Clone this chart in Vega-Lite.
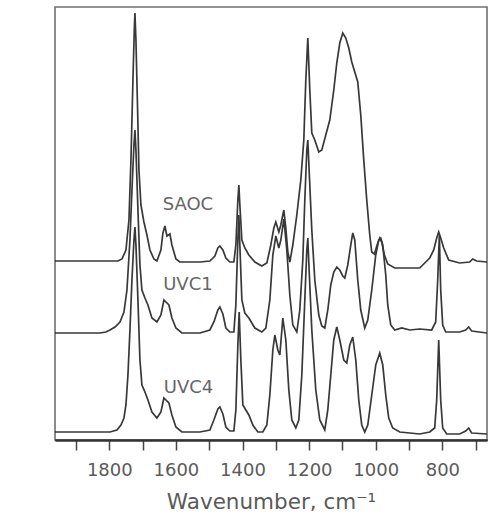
{
  "$schema": "https://vega.github.io/schema/vega-lite/v6.json",
  "autosize": {"type": "none"},
  "width": 432,
  "height": 433,
  "padding": {"left": 55, "top": 7, "right": 3, "bottom": 76},
  "background": "white",
  "config": {
    "font": "DejaVu Sans",
    "view": {"stroke": "#6f6f6f", "strokeWidth": 1.6}
  },
  "layer": [
    {
      "data": {
        "values": [
          {"spectrum": "SAOC", "wn": 1963, "abs": 1.79},
          {"spectrum": "SAOC", "wn": 1828, "abs": 1.79},
          {"spectrum": "SAOC", "wn": 1774, "abs": 1.79},
          {"spectrum": "SAOC", "wn": 1762, "abs": 1.81},
          {"spectrum": "SAOC", "wn": 1750, "abs": 1.90},
          {"spectrum": "SAOC", "wn": 1741, "abs": 2.20},
          {"spectrum": "SAOC", "wn": 1735, "abs": 2.80},
          {"spectrum": "SAOC", "wn": 1729, "abs": 3.60},
          {"spectrum": "SAOC", "wn": 1725, "abs": 4.10},
          {"spectrum": "SAOC", "wn": 1723, "abs": 4.27},
          {"spectrum": "SAOC", "wn": 1720, "abs": 4.00},
          {"spectrum": "SAOC", "wn": 1715, "abs": 3.30},
          {"spectrum": "SAOC", "wn": 1711, "abs": 2.70},
          {"spectrum": "SAOC", "wn": 1705, "abs": 2.35},
          {"spectrum": "SAOC", "wn": 1696, "abs": 2.18},
          {"spectrum": "SAOC", "wn": 1687, "abs": 2.05},
          {"spectrum": "SAOC", "wn": 1678, "abs": 1.90},
          {"spectrum": "SAOC", "wn": 1666, "abs": 1.81},
          {"spectrum": "SAOC", "wn": 1657, "abs": 1.79},
          {"spectrum": "SAOC", "wn": 1645, "abs": 1.90},
          {"spectrum": "SAOC", "wn": 1639, "abs": 2.07},
          {"spectrum": "SAOC", "wn": 1633, "abs": 2.14},
          {"spectrum": "SAOC", "wn": 1627, "abs": 2.04},
          {"spectrum": "SAOC", "wn": 1618, "abs": 2.06},
          {"spectrum": "SAOC", "wn": 1612, "abs": 1.95},
          {"spectrum": "SAOC", "wn": 1600, "abs": 1.81},
          {"spectrum": "SAOC", "wn": 1588, "abs": 1.78},
          {"spectrum": "SAOC", "wn": 1528, "abs": 1.78},
          {"spectrum": "SAOC", "wn": 1498, "abs": 1.79},
          {"spectrum": "SAOC", "wn": 1483, "abs": 1.84},
          {"spectrum": "SAOC", "wn": 1474, "abs": 1.92},
          {"spectrum": "SAOC", "wn": 1468, "abs": 1.94},
          {"spectrum": "SAOC", "wn": 1459, "abs": 1.90},
          {"spectrum": "SAOC", "wn": 1450, "abs": 1.82},
          {"spectrum": "SAOC", "wn": 1438, "abs": 1.78},
          {"spectrum": "SAOC", "wn": 1426, "abs": 1.78},
          {"spectrum": "SAOC", "wn": 1420, "abs": 1.95},
          {"spectrum": "SAOC", "wn": 1414, "abs": 2.40},
          {"spectrum": "SAOC", "wn": 1411, "abs": 2.55},
          {"spectrum": "SAOC", "wn": 1408, "abs": 2.35},
          {"spectrum": "SAOC", "wn": 1402, "abs": 2.00},
          {"spectrum": "SAOC", "wn": 1393, "abs": 1.92},
          {"spectrum": "SAOC", "wn": 1381, "abs": 1.85},
          {"spectrum": "SAOC", "wn": 1363, "abs": 1.78},
          {"spectrum": "SAOC", "wn": 1342, "abs": 1.74},
          {"spectrum": "SAOC", "wn": 1327, "abs": 1.77},
          {"spectrum": "SAOC", "wn": 1315, "abs": 1.95},
          {"spectrum": "SAOC", "wn": 1306, "abs": 2.12},
          {"spectrum": "SAOC", "wn": 1300, "abs": 2.18},
          {"spectrum": "SAOC", "wn": 1291, "abs": 2.08},
          {"spectrum": "SAOC", "wn": 1285, "abs": 2.15},
          {"spectrum": "SAOC", "wn": 1276, "abs": 2.30},
          {"spectrum": "SAOC", "wn": 1270, "abs": 2.12},
          {"spectrum": "SAOC", "wn": 1264, "abs": 1.88},
          {"spectrum": "SAOC", "wn": 1258, "abs": 1.78},
          {"spectrum": "SAOC", "wn": 1249, "abs": 1.95},
          {"spectrum": "SAOC", "wn": 1237, "abs": 2.25},
          {"spectrum": "SAOC", "wn": 1225, "abs": 2.60},
          {"spectrum": "SAOC", "wn": 1216, "abs": 3.00},
          {"spectrum": "SAOC", "wn": 1210, "abs": 3.60},
          {"spectrum": "SAOC", "wn": 1204, "abs": 4.02},
          {"spectrum": "SAOC", "wn": 1198, "abs": 3.50},
          {"spectrum": "SAOC", "wn": 1192, "abs": 3.07},
          {"spectrum": "SAOC", "wn": 1183, "abs": 3.00},
          {"spectrum": "SAOC", "wn": 1171, "abs": 2.88},
          {"spectrum": "SAOC", "wn": 1162, "abs": 2.90},
          {"spectrum": "SAOC", "wn": 1150, "abs": 3.05},
          {"spectrum": "SAOC", "wn": 1138, "abs": 3.20},
          {"spectrum": "SAOC", "wn": 1126, "abs": 3.50},
          {"spectrum": "SAOC", "wn": 1117, "abs": 3.77},
          {"spectrum": "SAOC", "wn": 1108, "abs": 3.97},
          {"spectrum": "SAOC", "wn": 1099, "abs": 4.07},
          {"spectrum": "SAOC", "wn": 1090, "abs": 4.02},
          {"spectrum": "SAOC", "wn": 1081, "abs": 3.92},
          {"spectrum": "SAOC", "wn": 1072, "abs": 3.78},
          {"spectrum": "SAOC", "wn": 1063, "abs": 3.68},
          {"spectrum": "SAOC", "wn": 1054, "abs": 3.58},
          {"spectrum": "SAOC", "wn": 1045, "abs": 3.25},
          {"spectrum": "SAOC", "wn": 1036, "abs": 2.80},
          {"spectrum": "SAOC", "wn": 1027, "abs": 2.40},
          {"spectrum": "SAOC", "wn": 1018, "abs": 2.05},
          {"spectrum": "SAOC", "wn": 1012, "abs": 1.88},
          {"spectrum": "SAOC", "wn": 1004, "abs": 1.86},
          {"spectrum": "SAOC", "wn": 996, "abs": 1.95},
          {"spectrum": "SAOC", "wn": 988, "abs": 2.02},
          {"spectrum": "SAOC", "wn": 982, "abs": 1.98},
          {"spectrum": "SAOC", "wn": 974, "abs": 1.85},
          {"spectrum": "SAOC", "wn": 964, "abs": 1.76},
          {"spectrum": "SAOC", "wn": 943, "abs": 1.72},
          {"spectrum": "SAOC", "wn": 898, "abs": 1.72},
          {"spectrum": "SAOC", "wn": 868, "abs": 1.72},
          {"spectrum": "SAOC", "wn": 838, "abs": 1.82},
          {"spectrum": "SAOC", "wn": 826, "abs": 1.90},
          {"spectrum": "SAOC", "wn": 817, "abs": 2.02},
          {"spectrum": "SAOC", "wn": 811, "abs": 2.08},
          {"spectrum": "SAOC", "wn": 805, "abs": 2.02},
          {"spectrum": "SAOC", "wn": 796, "abs": 1.92},
          {"spectrum": "SAOC", "wn": 781, "abs": 1.80},
          {"spectrum": "SAOC", "wn": 748, "abs": 1.77},
          {"spectrum": "SAOC", "wn": 718, "abs": 1.78},
          {"spectrum": "SAOC", "wn": 709, "abs": 1.81},
          {"spectrum": "SAOC", "wn": 697, "abs": 1.79},
          {"spectrum": "SAOC", "wn": 666, "abs": 1.78},

          {"spectrum": "UVC1", "wn": 1963, "abs": 1.07},
          {"spectrum": "UVC1", "wn": 1828, "abs": 1.07},
          {"spectrum": "UVC1", "wn": 1810, "abs": 1.08},
          {"spectrum": "UVC1", "wn": 1798, "abs": 1.10},
          {"spectrum": "UVC1", "wn": 1783, "abs": 1.13},
          {"spectrum": "UVC1", "wn": 1768, "abs": 1.18},
          {"spectrum": "UVC1", "wn": 1756, "abs": 1.28},
          {"spectrum": "UVC1", "wn": 1747, "abs": 1.50},
          {"spectrum": "UVC1", "wn": 1738, "abs": 2.00},
          {"spectrum": "UVC1", "wn": 1732, "abs": 2.50},
          {"spectrum": "UVC1", "wn": 1726, "abs": 2.95},
          {"spectrum": "UVC1", "wn": 1723, "abs": 3.10},
          {"spectrum": "UVC1", "wn": 1720, "abs": 2.90},
          {"spectrum": "UVC1", "wn": 1714, "abs": 2.30},
          {"spectrum": "UVC1", "wn": 1708, "abs": 1.75},
          {"spectrum": "UVC1", "wn": 1702, "abs": 1.50},
          {"spectrum": "UVC1", "wn": 1693, "abs": 1.42},
          {"spectrum": "UVC1", "wn": 1684, "abs": 1.35},
          {"spectrum": "UVC1", "wn": 1672, "abs": 1.22},
          {"spectrum": "UVC1", "wn": 1657, "abs": 1.18},
          {"spectrum": "UVC1", "wn": 1645, "abs": 1.25},
          {"spectrum": "UVC1", "wn": 1636, "abs": 1.40},
          {"spectrum": "UVC1", "wn": 1630, "abs": 1.38},
          {"spectrum": "UVC1", "wn": 1621, "abs": 1.35},
          {"spectrum": "UVC1", "wn": 1612, "abs": 1.22},
          {"spectrum": "UVC1", "wn": 1600, "abs": 1.12},
          {"spectrum": "UVC1", "wn": 1582, "abs": 1.07},
          {"spectrum": "UVC1", "wn": 1528, "abs": 1.07},
          {"spectrum": "UVC1", "wn": 1498, "abs": 1.10},
          {"spectrum": "UVC1", "wn": 1486, "abs": 1.18},
          {"spectrum": "UVC1", "wn": 1474, "abs": 1.30},
          {"spectrum": "UVC1", "wn": 1468, "abs": 1.33},
          {"spectrum": "UVC1", "wn": 1459, "abs": 1.26},
          {"spectrum": "UVC1", "wn": 1450, "abs": 1.12},
          {"spectrum": "UVC1", "wn": 1438, "abs": 1.08},
          {"spectrum": "UVC1", "wn": 1426, "abs": 1.08},
          {"spectrum": "UVC1", "wn": 1420, "abs": 1.35},
          {"spectrum": "UVC1", "wn": 1414, "abs": 2.00},
          {"spectrum": "UVC1", "wn": 1411, "abs": 2.25},
          {"spectrum": "UVC1", "wn": 1408, "abs": 1.95},
          {"spectrum": "UVC1", "wn": 1402, "abs": 1.40},
          {"spectrum": "UVC1", "wn": 1393, "abs": 1.27},
          {"spectrum": "UVC1", "wn": 1381, "abs": 1.22},
          {"spectrum": "UVC1", "wn": 1363, "abs": 1.12},
          {"spectrum": "UVC1", "wn": 1342, "abs": 1.08},
          {"spectrum": "UVC1", "wn": 1330, "abs": 1.12},
          {"spectrum": "UVC1", "wn": 1318, "abs": 1.40},
          {"spectrum": "UVC1", "wn": 1309, "abs": 1.85},
          {"spectrum": "UVC1", "wn": 1300, "abs": 2.04},
          {"spectrum": "UVC1", "wn": 1291, "abs": 1.92},
          {"spectrum": "UVC1", "wn": 1285, "abs": 2.00},
          {"spectrum": "UVC1", "wn": 1276, "abs": 2.21},
          {"spectrum": "UVC1", "wn": 1267, "abs": 1.90},
          {"spectrum": "UVC1", "wn": 1258, "abs": 1.45},
          {"spectrum": "UVC1", "wn": 1249, "abs": 1.15},
          {"spectrum": "UVC1", "wn": 1237, "abs": 1.08},
          {"spectrum": "UVC1", "wn": 1228, "abs": 1.30},
          {"spectrum": "UVC1", "wn": 1219, "abs": 1.80},
          {"spectrum": "UVC1", "wn": 1213, "abs": 2.40},
          {"spectrum": "UVC1", "wn": 1207, "abs": 2.90},
          {"spectrum": "UVC1", "wn": 1204, "abs": 3.00},
          {"spectrum": "UVC1", "wn": 1200, "abs": 2.70},
          {"spectrum": "UVC1", "wn": 1192, "abs": 2.10},
          {"spectrum": "UVC1", "wn": 1183, "abs": 1.60},
          {"spectrum": "UVC1", "wn": 1171, "abs": 1.25},
          {"spectrum": "UVC1", "wn": 1162, "abs": 1.14},
          {"spectrum": "UVC1", "wn": 1153, "abs": 1.12},
          {"spectrum": "UVC1", "wn": 1144, "abs": 1.30},
          {"spectrum": "UVC1", "wn": 1135, "abs": 1.55},
          {"spectrum": "UVC1", "wn": 1126, "abs": 1.68},
          {"spectrum": "UVC1", "wn": 1117, "abs": 1.73},
          {"spectrum": "UVC1", "wn": 1108, "abs": 1.70},
          {"spectrum": "UVC1", "wn": 1099, "abs": 1.64},
          {"spectrum": "UVC1", "wn": 1093, "abs": 1.62},
          {"spectrum": "UVC1", "wn": 1084, "abs": 1.75},
          {"spectrum": "UVC1", "wn": 1075, "abs": 1.95},
          {"spectrum": "UVC1", "wn": 1069, "abs": 2.07},
          {"spectrum": "UVC1", "wn": 1063, "abs": 2.00},
          {"spectrum": "UVC1", "wn": 1054, "abs": 1.60},
          {"spectrum": "UVC1", "wn": 1045, "abs": 1.30},
          {"spectrum": "UVC1", "wn": 1033, "abs": 1.12},
          {"spectrum": "UVC1", "wn": 1024, "abs": 1.20},
          {"spectrum": "UVC1", "wn": 1012, "abs": 1.50},
          {"spectrum": "UVC1", "wn": 1000, "abs": 1.85},
          {"spectrum": "UVC1", "wn": 991, "abs": 2.00},
          {"spectrum": "UVC1", "wn": 985, "abs": 2.02},
          {"spectrum": "UVC1", "wn": 979, "abs": 1.95},
          {"spectrum": "UVC1", "wn": 970, "abs": 1.65},
          {"spectrum": "UVC1", "wn": 964, "abs": 1.35},
          {"spectrum": "UVC1", "wn": 955, "abs": 1.15},
          {"spectrum": "UVC1", "wn": 943, "abs": 1.10},
          {"spectrum": "UVC1", "wn": 922, "abs": 1.12},
          {"spectrum": "UVC1", "wn": 898, "abs": 1.10},
          {"spectrum": "UVC1", "wn": 868, "abs": 1.11},
          {"spectrum": "UVC1", "wn": 832, "abs": 1.10},
          {"spectrum": "UVC1", "wn": 820, "abs": 1.18},
          {"spectrum": "UVC1", "wn": 814, "abs": 1.60},
          {"spectrum": "UVC1", "wn": 809, "abs": 2.05},
          {"spectrum": "UVC1", "wn": 805, "abs": 1.50},
          {"spectrum": "UVC1", "wn": 799, "abs": 1.15},
          {"spectrum": "UVC1", "wn": 790, "abs": 1.08},
          {"spectrum": "UVC1", "wn": 748, "abs": 1.08},
          {"spectrum": "UVC1", "wn": 730, "abs": 1.10},
          {"spectrum": "UVC1", "wn": 721, "abs": 1.13},
          {"spectrum": "UVC1", "wn": 712, "abs": 1.09},
          {"spectrum": "UVC1", "wn": 666, "abs": 1.07},

          {"spectrum": "UVC4", "wn": 1963, "abs": 0.08},
          {"spectrum": "UVC4", "wn": 1798, "abs": 0.08},
          {"spectrum": "UVC4", "wn": 1777, "abs": 0.10},
          {"spectrum": "UVC4", "wn": 1765, "abs": 0.15},
          {"spectrum": "UVC4", "wn": 1756, "abs": 0.22},
          {"spectrum": "UVC4", "wn": 1750, "abs": 0.35},
          {"spectrum": "UVC4", "wn": 1744, "abs": 0.65},
          {"spectrum": "UVC4", "wn": 1738, "abs": 1.10},
          {"spectrum": "UVC4", "wn": 1732, "abs": 1.60},
          {"spectrum": "UVC4", "wn": 1726, "abs": 2.00},
          {"spectrum": "UVC4", "wn": 1723, "abs": 2.13},
          {"spectrum": "UVC4", "wn": 1720, "abs": 1.95},
          {"spectrum": "UVC4", "wn": 1714, "abs": 1.40},
          {"spectrum": "UVC4", "wn": 1708, "abs": 0.80},
          {"spectrum": "UVC4", "wn": 1702, "abs": 0.55},
          {"spectrum": "UVC4", "wn": 1693, "abs": 0.48},
          {"spectrum": "UVC4", "wn": 1684, "abs": 0.40},
          {"spectrum": "UVC4", "wn": 1672, "abs": 0.28},
          {"spectrum": "UVC4", "wn": 1657, "abs": 0.22},
          {"spectrum": "UVC4", "wn": 1645, "abs": 0.28},
          {"spectrum": "UVC4", "wn": 1636, "abs": 0.42},
          {"spectrum": "UVC4", "wn": 1630, "abs": 0.40},
          {"spectrum": "UVC4", "wn": 1621, "abs": 0.37},
          {"spectrum": "UVC4", "wn": 1612, "abs": 0.25},
          {"spectrum": "UVC4", "wn": 1600, "abs": 0.13},
          {"spectrum": "UVC4", "wn": 1582, "abs": 0.08},
          {"spectrum": "UVC4", "wn": 1528, "abs": 0.08},
          {"spectrum": "UVC4", "wn": 1498, "abs": 0.10},
          {"spectrum": "UVC4", "wn": 1486, "abs": 0.20},
          {"spectrum": "UVC4", "wn": 1474, "abs": 0.31},
          {"spectrum": "UVC4", "wn": 1468, "abs": 0.33},
          {"spectrum": "UVC4", "wn": 1459, "abs": 0.26},
          {"spectrum": "UVC4", "wn": 1450, "abs": 0.13},
          {"spectrum": "UVC4", "wn": 1438, "abs": 0.09},
          {"spectrum": "UVC4", "wn": 1426, "abs": 0.09},
          {"spectrum": "UVC4", "wn": 1420, "abs": 0.30},
          {"spectrum": "UVC4", "wn": 1414, "abs": 0.95},
          {"spectrum": "UVC4", "wn": 1410, "abs": 1.28},
          {"spectrum": "UVC4", "wn": 1405, "abs": 0.80},
          {"spectrum": "UVC4", "wn": 1399, "abs": 0.35},
          {"spectrum": "UVC4", "wn": 1390, "abs": 0.30},
          {"spectrum": "UVC4", "wn": 1381, "abs": 0.25},
          {"spectrum": "UVC4", "wn": 1369, "abs": 0.15},
          {"spectrum": "UVC4", "wn": 1354, "abs": 0.08},
          {"spectrum": "UVC4", "wn": 1339, "abs": 0.08},
          {"spectrum": "UVC4", "wn": 1327, "abs": 0.15},
          {"spectrum": "UVC4", "wn": 1318, "abs": 0.45},
          {"spectrum": "UVC4", "wn": 1309, "abs": 0.90},
          {"spectrum": "UVC4", "wn": 1303, "abs": 1.05},
          {"spectrum": "UVC4", "wn": 1294, "abs": 0.90},
          {"spectrum": "UVC4", "wn": 1288, "abs": 0.85},
          {"spectrum": "UVC4", "wn": 1279, "abs": 1.22},
          {"spectrum": "UVC4", "wn": 1270, "abs": 1.00},
          {"spectrum": "UVC4", "wn": 1261, "abs": 0.50},
          {"spectrum": "UVC4", "wn": 1252, "abs": 0.20},
          {"spectrum": "UVC4", "wn": 1240, "abs": 0.12},
          {"spectrum": "UVC4", "wn": 1231, "abs": 0.20},
          {"spectrum": "UVC4", "wn": 1222, "abs": 0.65},
          {"spectrum": "UVC4", "wn": 1213, "abs": 1.40},
          {"spectrum": "UVC4", "wn": 1207, "abs": 1.90},
          {"spectrum": "UVC4", "wn": 1204, "abs": 2.02},
          {"spectrum": "UVC4", "wn": 1200, "abs": 1.70},
          {"spectrum": "UVC4", "wn": 1192, "abs": 1.10},
          {"spectrum": "UVC4", "wn": 1180, "abs": 0.50},
          {"spectrum": "UVC4", "wn": 1168, "abs": 0.20},
          {"spectrum": "UVC4", "wn": 1153, "abs": 0.10},
          {"spectrum": "UVC4", "wn": 1144, "abs": 0.30},
          {"spectrum": "UVC4", "wn": 1135, "abs": 0.65},
          {"spectrum": "UVC4", "wn": 1126, "abs": 1.00},
          {"spectrum": "UVC4", "wn": 1117, "abs": 1.13},
          {"spectrum": "UVC4", "wn": 1108, "abs": 1.00},
          {"spectrum": "UVC4", "wn": 1096, "abs": 0.80},
          {"spectrum": "UVC4", "wn": 1087, "abs": 0.77},
          {"spectrum": "UVC4", "wn": 1078, "abs": 0.95},
          {"spectrum": "UVC4", "wn": 1069, "abs": 1.03},
          {"spectrum": "UVC4", "wn": 1060, "abs": 0.80},
          {"spectrum": "UVC4", "wn": 1051, "abs": 0.40},
          {"spectrum": "UVC4", "wn": 1042, "abs": 0.15},
          {"spectrum": "UVC4", "wn": 1033, "abs": 0.08},
          {"spectrum": "UVC4", "wn": 1024, "abs": 0.15},
          {"spectrum": "UVC4", "wn": 1012, "abs": 0.45},
          {"spectrum": "UVC4", "wn": 1000, "abs": 0.75},
          {"spectrum": "UVC4", "wn": 988, "abs": 0.87},
          {"spectrum": "UVC4", "wn": 979, "abs": 0.75},
          {"spectrum": "UVC4", "wn": 970, "abs": 0.45},
          {"spectrum": "UVC4", "wn": 961, "abs": 0.22},
          {"spectrum": "UVC4", "wn": 949, "abs": 0.12},
          {"spectrum": "UVC4", "wn": 928, "abs": 0.08},
          {"spectrum": "UVC4", "wn": 898, "abs": 0.07},
          {"spectrum": "UVC4", "wn": 868, "abs": 0.06},
          {"spectrum": "UVC4", "wn": 838, "abs": 0.08},
          {"spectrum": "UVC4", "wn": 823, "abs": 0.12},
          {"spectrum": "UVC4", "wn": 817, "abs": 0.40},
          {"spectrum": "UVC4", "wn": 811, "abs": 1.00},
          {"spectrum": "UVC4", "wn": 805, "abs": 0.40},
          {"spectrum": "UVC4", "wn": 799, "abs": 0.12},
          {"spectrum": "UVC4", "wn": 787, "abs": 0.06},
          {"spectrum": "UVC4", "wn": 748, "abs": 0.06},
          {"spectrum": "UVC4", "wn": 730, "abs": 0.09},
          {"spectrum": "UVC4", "wn": 721, "abs": 0.12},
          {"spectrum": "UVC4", "wn": 712, "abs": 0.07},
          {"spectrum": "UVC4", "wn": 666, "abs": 0.06}
        ]
      },
      "mark": {"type": "line", "color": "#383838", "strokeWidth": 1.7, "clip": true},
      "encoding": {
        "x": {
          "field": "wn",
          "type": "quantitative",
          "scale": {"domain": [666, 1963], "reverse": true, "nice": false, "zero": false},
          "axis": {
            "orient": "bottom",
            "title": null,
            "values": [1900, 1700, 1500, 1300, 1100, 900, 700],
            "labels": false,
            "grid": false,
            "domainColor": "#333333",
            "domainWidth": 2,
            "tickColor": "#444444",
            "tickWidth": 1.5,
            "tickSize": 10
          }
        },
        "y": {
          "field": "abs",
          "type": "quantitative",
          "scale": {"domain": [0, 4.33], "nice": false, "zero": false},
          "axis": {
            "title": "Absorbance",
            "domain": false,
            "ticks": false,
            "labels": false,
            "grid": false,
            "titleFont": "DejaVu Sans",
            "titleFontSize": 22,
            "titleFontWeight": "normal",
            "titleColor": "#5a5a5a",
            "titleBaseline": "alphabetic",
            "titleX": -25,
            "titleY": 206
          }
        },
        "detail": {"field": "spectrum", "type": "nominal"}
      }
    },
    {
      "data": {
        "values": [
          {"name": "SAOC", "wn": 1564, "abs": 2.35},
          {"name": "UVC1", "wn": 1564, "abs": 1.55},
          {"name": "UVC4", "wn": 1562, "abs": 0.52}
        ]
      },
      "mark": {"type": "text", "font": "DejaVu Sans", "fontSize": 18, "color": "#666666", "align": "center", "baseline": "middle"},
      "encoding": {
        "x": {
          "field": "wn",
          "type": "quantitative",
          "axis": {
            "orient": "bottom",
            "title": "Wavenumber, cm⁻¹",
            "values": [1800, 1600, 1400, 1200, 1000, 800],
            "format": "d",
            "grid": false,
            "domainColor": "#333333",
            "domainWidth": 2,
            "tickColor": "#444444",
            "tickWidth": 1.5,
            "tickSize": 10,
            "labelFont": "DejaVu Sans",
            "labelFontSize": 18,
            "labelColor": "#5a5a5a",
            "labelPadding": 11,
            "titleFont": "DejaVu Sans",
            "titleFontSize": 21.5,
            "titleFontWeight": "normal",
            "titleColor": "#5a5a5a",
            "titleBaseline": "alphabetic",
            "titleY": 68
          }
        },
        "y": {"field": "abs", "type": "quantitative", "axis": null},
        "text": {"field": "name"}
      }
    }
  ],
  "resolve": {"axis": {"x": "independent"}}
}
